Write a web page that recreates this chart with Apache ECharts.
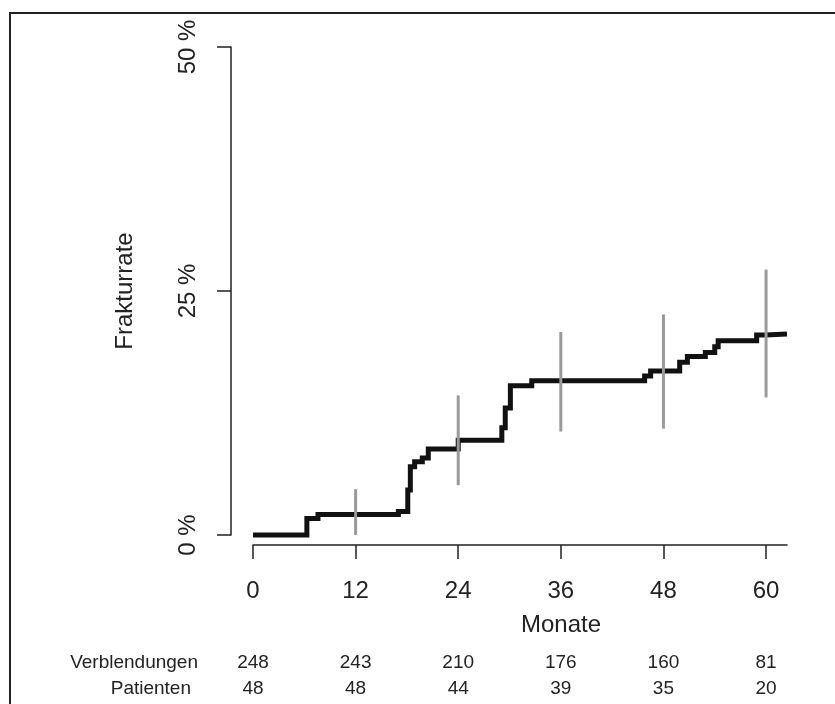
<!DOCTYPE html>
<html><head><meta charset="utf-8">
<script src="https://cdn.jsdelivr.net/npm/echarts@6/dist/echarts.min.js"></script>
<style>html,body{margin:0;padding:0;background:#fff}#c{width:835px;height:704px}</style>
</head><body><div id="c"></div>
<script>
// Kaplan-Meier style cumulative fracture rate (months, percent)
const stepMonths = [0, 6.3, 7.6, 17.0, 18.1, 18.4, 18.9, 19.8, 20.5, 24.0, 29.1, 29.5, 30.1, 32.6, 45.8, 46.5, 49.9, 50.8, 52.9, 54.0, 54.4, 58.9, 59.9, 62.45];
const stepRates  = [0, 1.7, 2.1, 2.4, 4.6, 7.0, 7.5, 7.9, 8.8, 9.7, 11.0, 13.0, 15.3, 15.8, 16.3, 16.8, 17.7, 18.3, 18.7, 19.3, 19.9, 20.5, 20.6, 20.6];
// confidence intervals
const ciMonths = [12, 24, 36, 48, 60];
const ciLower  = [0, 5.1, 10.6, 10.9, 14.1];
const ciUpper  = [4.7, 14.3, 20.8, 22.6, 27.2];
// ticks
const xTicks = [0, 12, 24, 36, 48, 60];
const yTicks = [0, 25, 50];
// numbers at risk
const verblendungen = [248, 243, 210, 176, 160, 81];
const patienten = [48, 48, 44, 39, 35, 20];

const FONT = "'Liberation Sans', Arial, Helvetica, sans-serif";
const TXT = '#222';
const chart = echarts.init(document.getElementById('c'), null, {renderer: 'canvas'});

const baseX = {
  type: 'value', min: 0, max: 62.45, position: 'bottom',
  splitLine: {show: false}
};

chart.setOption({
  animation: false,
  backgroundColor: '#fff',
  grid: {left: 253, right: 48, top: 47, bottom: 169, containLabel: false},
  xAxis: [
    Object.assign({}, baseX, {
      offset: 10,
      axisLine: {show: true, onZero: false, lineStyle: {color: TXT, width: 1.5}},
      axisTick: {show: true, length: 14, customValues: xTicks, lineStyle: {color: TXT, width: 1.5}},
      axisLabel: {customValues: xTicks, fontSize: 24, fontFamily: FONT, color: TXT, margin: 34}
    }),
    Object.assign({}, baseX, {
      offset: 110,
      axisLine: {show: false, onZero: false}, axisTick: {show: false},
      axisLabel: {customValues: xTicks, fontSize: 19, fontFamily: FONT, color: TXT, margin: 8,
        formatter: v => String(verblendungen[xTicks.indexOf(v)])}
    }),
    Object.assign({}, baseX, {
      offset: 136,
      axisLine: {show: false, onZero: false}, axisTick: {show: false},
      axisLabel: {customValues: xTicks, fontSize: 19, fontFamily: FONT, color: TXT, margin: 8,
        formatter: v => String(patienten[xTicks.indexOf(v)])}
    })
  ],
  yAxis: {
    type: 'value', min: 0, max: 50, offset: 22,
    splitLine: {show: false},
    axisLine: {show: true, onZero: false, lineStyle: {color: TXT, width: 1.5}},
    axisTick: {show: true, length: 14, customValues: yTicks, lineStyle: {color: TXT, width: 1.5}},
    axisLabel: {customValues: yTicks, rotate: 90, fontSize: 24, fontFamily: FONT, color: TXT, margin: 31,
      formatter: v => v + ' %'},
    name: 'Frakturrate', nameLocation: 'middle', nameGap: 94,
    nameTextStyle: {fontSize: 24, fontFamily: FONT, color: TXT}
  },
  series: [
    {
      type: 'line', xAxisIndex: 0, yAxisIndex: 0, step: 'end', showSymbol: false, clip: false, z: 2,
      data: stepMonths.map((m, i) => [m, stepRates[i]]),
      lineStyle: {color: '#111', width: 5, join: 'miter', cap: 'butt'}
    },
    {
      type: 'custom', xAxisIndex: 0, yAxisIndex: 0, clip: false, z: 3,
      data: ciMonths.map((m, i) => [m, ciLower[i], ciUpper[i]]),
      encode: {x: 0, y: [1, 2]},
      renderItem: (params, api) => {
        const p1 = api.coord([api.value(0), api.value(1)]);
        const p2 = api.coord([api.value(0), api.value(2)]);
        return {type: 'line', shape: {x1: p1[0], y1: p1[1], x2: p2[0], y2: p2[1]},
          style: {stroke: '#9a9a9a', lineWidth: 3}};
      }
    }
  ],
  graphic: [
    {type: 'polyline', shape: {points: [[10, 704], [10, 13], [835, 13]]}, style: {stroke: '#222', lineWidth: 2, fill: null}},
    {type: 'text', x: 561, y: 625, style: {text: 'Monate', font: '24px ' + FONT, fill: TXT, textAlign: 'center', textVerticalAlign: 'middle'}},
    {type: 'text', x: 198, y: 663, style: {text: 'Verblendungen', font: '19px ' + FONT, fill: TXT, textAlign: 'right', textVerticalAlign: 'middle'}},
    {type: 'text', x: 191, y: 689, style: {text: 'Patienten', font: '19px ' + FONT, fill: TXT, textAlign: 'right', textVerticalAlign: 'middle'}}
  ]
});
</script></body></html>
